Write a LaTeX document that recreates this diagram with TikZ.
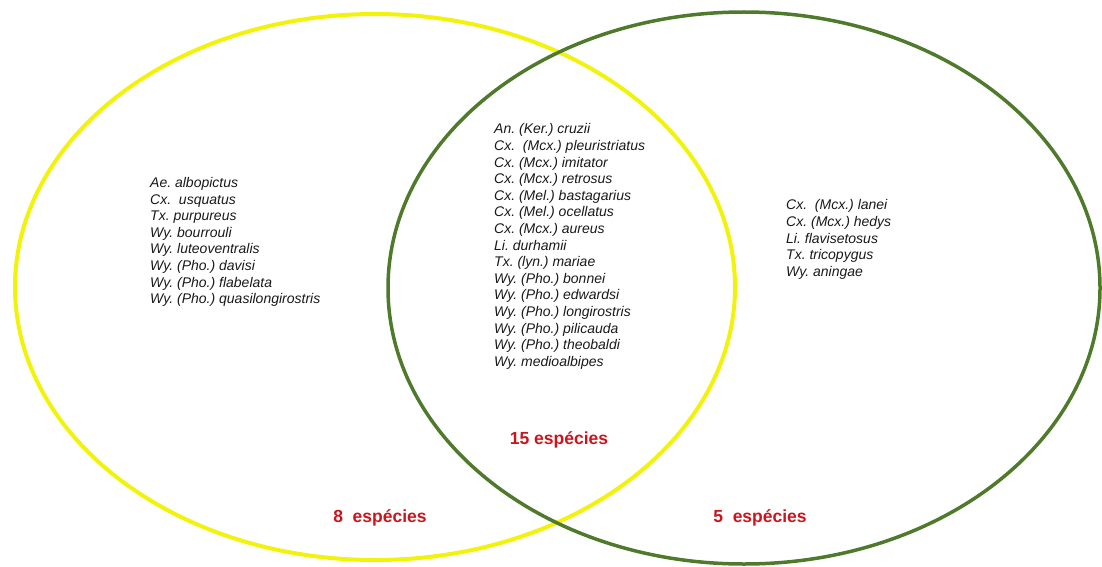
\documentclass[tikz,border=0pt]{standalone}
\usepackage{fontspec}
\setmainfont{Liberation Sans}
\frenchspacing
\definecolor{vyellow}{HTML}{F2F20A}
\definecolor{vgreen}{HTML}{4F7A2C}
\definecolor{vred}{HTML}{C8161E}
\tikzset{
  setring/.style={line width=#1},
  splist/.style={anchor=west, align=left, inner sep=0pt, text=black!90,
    font=\itshape\fontsize{14}{16.6}\selectfont},
  countlabel/.style={inner sep=0pt, text=vred, font=\bfseries\fontsize{17.5}{20}\selectfont}
}
\begin{document}
\begin{tikzpicture}[x=1pt,y=-1pt]
\useasboundingbox (0,0) rectangle (1102,567);
\draw[vyellow, setring=4pt] (375,287) ellipse [x radius=360, y radius=273];
\draw[vgreen, setring=3.5pt] (744,288) ellipse [x radius=356, y radius=276];
\node[splist] (left) at (150,242) {Ae. albopictus\\Cx.\ \ usquatus\\Tx. purpureus\\Wy. bourrouli\\Wy. luteoventralis\\Wy. (Pho.) davisi\\Wy. (Pho.) flabelata\\Wy. (Pho.) quasilongirostris};
\node[splist] (mid) at (494,246.5) {An. (Ker.) cruzii\\Cx.\ \ (Mcx.) pleuristriatus\\Cx. (Mcx.) imitator\\Cx. (Mcx.) retrosus\\Cx. (Mel.) bastagarius\\Cx. (Mel.) ocellatus\\Cx. (Mcx.) aureus\\Li. durhamii\\Tx. (lyn.) mariae\\Wy. (Pho.) bonnei\\Wy. (Pho.) edwardsi\\Wy. (Pho.) longirostris\\Wy. (Pho.) pilicauda\\Wy. (Pho.) theobaldi\\Wy. medioalbipes};
\node[splist] (right) at (786,239.5) {Cx.\ \ (Mcx.) lanei\\Cx. (Mcx.) hedys\\Li. flavisetosus\\Tx. tricopygus\\Wy. aningae};
\node[countlabel] (c15) at (559,440) {15 espécies};
\node[countlabel] (c8) at (380,518) {8\ \ espécies};
\node[countlabel] (c5) at (760,518) {5\ \ espécies};
\end{tikzpicture}
\end{document}
